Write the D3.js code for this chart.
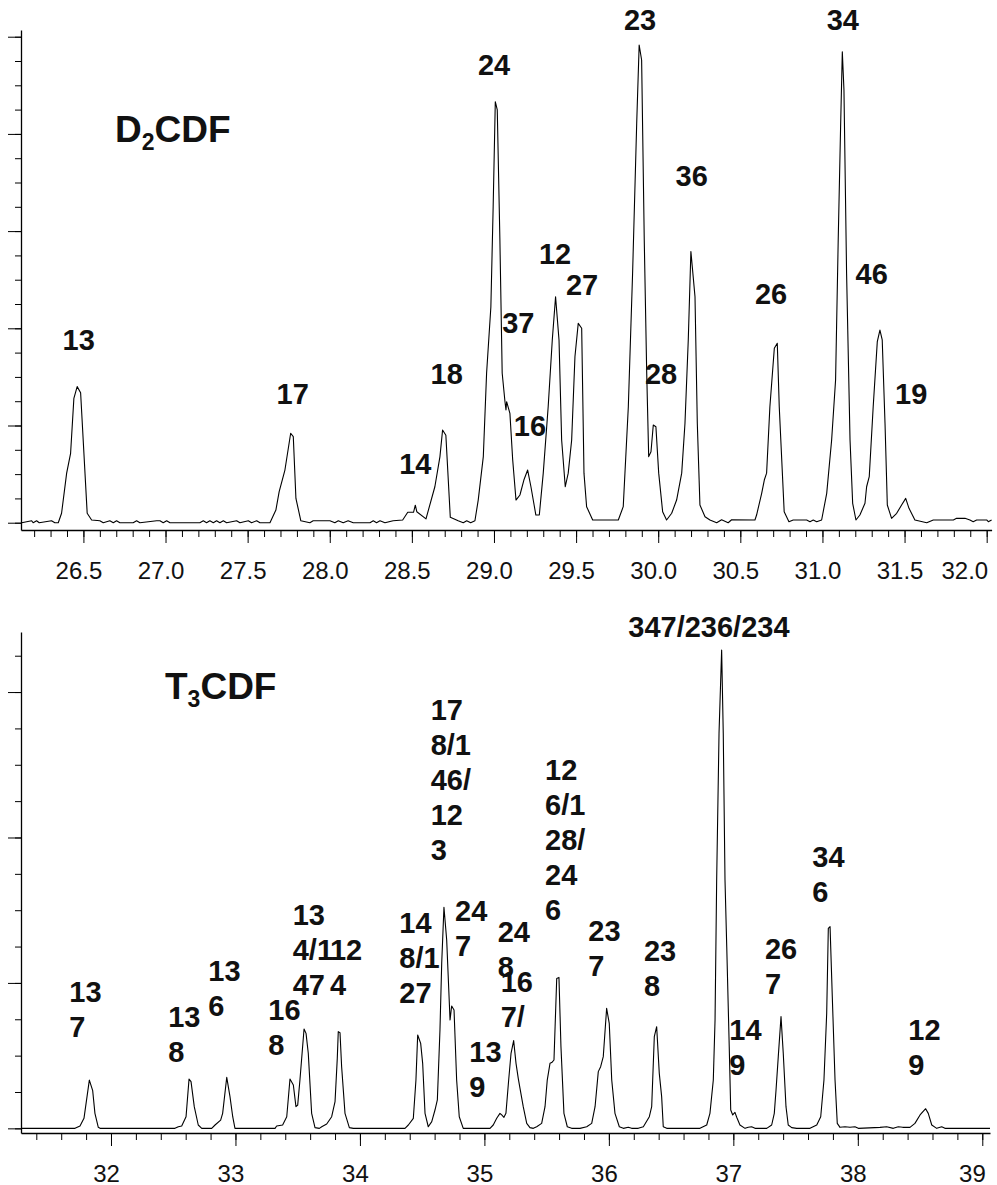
<!DOCTYPE html>
<html>
<head>
<meta charset="utf-8">
<script src="https://cdn.jsdelivr.net/npm/d3@7"></script>
<style>
  body { margin: 0; background: #fff; }
  svg { display: block; font-family: "Liberation Sans", Arial, sans-serif; }
</style>
</head>
<body>
<div id="drawing"></div>
<script>
// D2CDF trace: retention time (min) and signal (major y tick = 1)
var d2Time = [26.124, 26.185, 26.194, 26.215, 26.231, 26.306, 26.326, 26.347, 26.367, 26.398, 26.422, 26.442, 26.462, 26.483,
  26.523, 26.550, 26.600, 26.621, 26.661, 26.682, 26.702, 26.722, 26.803, 26.824, 26.844, 26.946, 26.966, 26.986, 27.007,
  27.027, 27.209, 27.230, 27.250, 27.270, 27.291, 27.311, 27.331, 27.352, 27.372, 27.433, 27.453, 27.504, 27.524, 27.555,
  27.575, 27.636, 27.672, 27.692, 27.727, 27.762, 27.778, 27.794, 27.824, 27.879, 27.899, 28.001, 28.031, 28.052, 28.082,
  28.112, 28.143, 28.245, 28.265, 28.285, 28.306, 28.336, 28.386, 28.444, 28.475, 28.510, 28.521, 28.530, 28.586, 28.640,
  28.671, 28.687, 28.707, 28.734, 28.782, 28.813, 28.834, 28.858, 28.884, 28.904, 28.935, 28.955, 28.981, 28.995, 29.008,
  29.020, 29.036, 29.050, 29.067, 29.073, 29.077, 29.097, 29.114, 29.134, 29.158, 29.182, 29.205, 29.225, 29.255, 29.276,
  29.300, 29.330, 29.355, 29.375, 29.396, 29.412, 29.434, 29.452, 29.473, 29.493, 29.513, 29.534, 29.548, 29.564, 29.601,
  29.757, 29.787, 29.818, 29.844, 29.869, 29.884, 29.899, 29.915, 29.930, 29.942, 29.956, 29.970, 29.986, 30.003, 30.027,
  30.051, 30.082, 30.112, 30.143, 30.163, 30.183, 30.199, 30.224, 30.238, 30.254, 30.285, 30.315, 30.356, 30.386, 30.426,
  30.447, 30.589, 30.599, 30.630, 30.646, 30.660, 30.680, 30.707, 30.725, 30.737, 30.767, 30.796, 30.822, 30.904, 30.924,
  30.944, 30.965, 30.995, 31.026, 31.056, 31.080, 31.096, 31.111, 31.121, 31.131, 31.147, 31.168, 31.184, 31.204, 31.228,
  31.259, 31.269, 31.285, 31.309, 31.334, 31.350, 31.364, 31.381, 31.395, 31.421, 31.452, 31.482, 31.507, 31.527, 31.563,
  31.635, 31.675, 31.797, 31.817, 31.868, 31.898, 31.918, 31.939, 32.000, 32.010, 32.030];
var d2Signal = [0, 0.02, 0, 0.02, 0, 0.02, 0, 0, 0.097, 0.51, 0.714, 1.28, 1.40, 1.337,
  0.097, 0.028, 0.02, 0, 0.02, 0, 0.02, 0, 0, 0.02, 0, 0.02, 0.02, 0, 0.02,
  0, 0, 0.02, 0, 0.02, 0, 0.02, 0, 0.02, 0, 0.02, 0, 0.02, 0, 0.02,
  0, 0, 0.13, 0.32, 0.542, 0.92, 0.885, 0.25, 0.02, 0, 0.02, 0.02, 0, 0.02, 0,
  0.02, 0, 0, 0.02, 0, 0.02, 0, 0.02, 0.028, 0.107, 0.107, 0.18, 0.113, 0.04, 0.37,
  0.68, 0.954, 0.90, 0.055, 0.02, 0, 0.02, 0, 0.02, 0.233, 0.68, 1.537, 2.22, 3.25, 4.331,
  4.246, 2.908, 1.537, 1.245, 1.16, 1.245, 1.125, 0.645, 0.233, 0.285, 0.439, 0.542, 0.37, 0.079, 0.079,
  0.51, 1.193, 1.88, 2.325, 1.88, 0.851, 0.37, 0.51, 0.851, 1.708, 2.051, 2.0, 0.51, 0.165, 0.028,
  0.028, 0.165, 1.193, 2.566, 4.109, 4.915, 4.76, 2.908, 1.537, 0.68, 0.73, 1.005, 0.988, 0.51, 0.113,
  0.028, 0.097, 0.233, 0.51, 1.023, 1.88, 2.79, 2.325, 1.023, 0.182, 0.062, 0.028, 0, 0.03, 0,
  0.03, 0.028, 0.079, 0.302, 0.439, 0.51, 1.193, 1.794, 1.846, 1.193, 0.113, 0.01, 0.028, 0.028, 0.01,
  0.028, 0.01, 0.028, 0.302, 0.851, 1.468, 2.908, 4.109, 4.846, 4.452, 2.566, 0.851, 0.2, 0.028, 0.079,
  0.2, 0.37, 0.473, 1.193, 1.863, 1.982, 1.88, 1.023, 0.182, 0.045, 0.097, 0.182, 0.25, 0.148, 0.028,
  0, 0.028, 0.028, 0.045, 0.045, 0.028, 0.01, 0.028, 0.028, 0.01, 0.028];

// T3CDF trace
var t3Time = [31.283, 31.711, 31.751, 31.783, 31.826, 31.853, 31.871, 31.898, 31.912, 32.514, 32.541, 32.568, 32.603,
  32.627, 32.643, 32.669, 32.701, 32.729, 32.809, 32.836, 32.881, 32.897, 32.930, 32.956, 32.978, 32.996, 33.318, 33.331,
  33.379, 33.412, 33.438, 33.465, 33.486, 33.500, 33.518, 33.551, 33.567, 33.585, 33.612, 33.639, 33.674, 33.693, 33.733,
  33.773, 33.800, 33.818, 33.826, 33.840, 33.853, 33.880, 33.915, 33.947, 34.362, 34.389, 34.429, 34.450, 34.464, 34.488,
  34.504, 34.523, 34.549, 34.577, 34.603, 34.622, 34.643, 34.657, 34.675, 34.697, 34.724, 34.737, 34.756, 34.777, 34.798,
  34.830, 35.045, 35.071, 35.099, 35.125, 35.139, 35.157, 35.173, 35.195, 35.214, 35.235, 35.254, 35.272, 35.286, 35.312,
  35.340, 35.366, 35.393, 35.420, 35.460, 35.487, 35.505, 35.527, 35.541, 35.559, 35.581, 35.599, 35.615, 35.639, 35.666,
  35.701, 35.768, 35.822, 35.862, 35.889, 35.915, 35.934, 35.955, 35.982, 36.003, 36.023, 36.049, 36.084, 36.116, 36.156,
  36.183, 36.236, 36.277, 36.325, 36.344, 36.365, 36.384, 36.405, 36.424, 36.437, 36.465, 36.732, 36.786, 36.812, 36.839,
  36.853, 36.866, 36.885, 36.906, 36.919, 36.933, 36.947, 36.967, 36.979, 36.995, 37.013, 37.027, 37.053, 37.094, 37.120,
  37.147, 37.174, 37.268, 37.308, 37.329, 37.343, 37.361, 37.383, 37.401, 37.423, 37.441, 37.469, 37.509, 37.616, 37.670,
  37.702, 37.728, 37.750, 37.763, 37.777, 37.795, 37.817, 37.835, 37.857, 37.897, 37.937, 37.977, 38.004, 38.178, 38.232,
  38.285, 38.325, 38.361, 38.419, 38.459, 38.500, 38.545, 38.566, 38.594, 38.634, 38.674, 38.700, 39.062];
var t3Signal = [0, 0, 0.016, 0.069, 0.332, 0.259, 0.103, 0.007, 0, 0, 0.011, 0.016, 0.08,
  0.339, 0.321, 0.149, 0.023, 0, 0, 0.023, 0.057, 0.103, 0.351, 0.218, 0.08, 0, 0, 0.016,
  0.023, 0.08, 0.339, 0.298, 0.149, 0.16, 0.332, 0.683, 0.653, 0.516, 0.103, 0.005, 0, 0.011, 0.03,
  0.08, 0.183, 0.481, 0.665, 0.658, 0.424, 0.103, 0.005, 0, 0, 0.023, 0.069, 0.332, 0.642, 0.584,
  0.447, 0.103, 0.011, 0.046, 0.126, 0.195, 0.676, 1.135, 1.52, 1.295, 0.745, 0.841, 0.814, 0.332, 0.08,
  0, 0, 0.023, 0.069, 0.103, 0.092, 0.076, 0.103, 0.332, 0.516, 0.603, 0.447, 0.344, 0.275, 0.149,
  0.034, 0.005, 0, 0.011, 0.034, 0.149, 0.332, 0.447, 0.452, 0.47, 1.031, 1.038, 0.562, 0.103, 0.011,
  0, 0, 0.011, 0.034, 0.149, 0.39, 0.424, 0.493, 0.825, 0.722, 0.332, 0.103, 0.011, 0, 0.007,
  0, 0, 0.011, 0.08, 0.149, 0.63, 0.699, 0.378, 0.218, 0.011, 0, 0, 0.023, 0.103, 0.332,
  0.745, 1.708, 2.716, 3.289, 2.716, 1.708, 1.249, 0.561, 0.126, 0.092, 0.11, 0.076, 0.023, 0, 0.007,
  0.011, 0, 0, 0.023, 0.103, 0.264, 0.493, 0.768, 0.516, 0.149, 0.023, 0.005, 0, 0, 0.023,
  0.08, 0.332, 0.791, 1.375, 1.387, 0.905, 0.332, 0.034, 0.007, 0.011, 0.007, 0.011, 0, 0.007, 0.011,
  0, 0.011, 0.007, 0.007, 0.034, 0.092, 0.135, 0.103, 0.023, 0, 0.011, 0, 0];

// peak annotations: congener lines, retention time and signal level of first baseline
var d2Labels = [
  { lines: ["13"], rt: 26.373, at: 1.777 },
  { lines: ["17"], rt: 27.676, at: 1.218 },
  { lines: ["14"], rt: 28.423, at: 0.498 },
  { lines: ["18"], rt: 28.614, at: 1.427 },
  { lines: ["24"], rt: 28.902, at: 4.606 },
  { lines: ["37"], rt: 29.050, at: 1.955 },
  { lines: ["16"], rt: 29.121, at: 0.892 },
  { lines: ["12"], rt: 29.274, at: 2.662 },
  { lines: ["27"], rt: 29.438, at: 2.343 },
  { lines: ["23"], rt: 29.791, at: 5.069 },
  { lines: ["28"], rt: 29.919, at: 1.427 },
  { lines: ["36"], rt: 30.106, at: 3.464 },
  { lines: ["26"], rt: 30.589, at: 2.247 },
  { lines: ["34"], rt: 31.026, at: 5.069 },
  { lines: ["46"], rt: 31.202, at: 2.453 },
  { lines: ["19"], rt: 31.442, at: 1.221 }
];
var t3Labels = [
  { lines: ["13", "7"], rt: 31.665, at: 0.870 },
  { lines: ["13", "8"], rt: 32.460, at: 0.699 },
  { lines: ["13", "6"], rt: 32.782, at: 1.015 },
  { lines: ["16", "8"], rt: 33.264, at: 0.745 },
  { lines: ["13", "4/1", "47"], rt: 33.460, at: 1.398 },
  { lines: ["12", "4"], rt: 33.759, at: 1.157 },
  { lines: ["14", "8/1", "27"], rt: 34.316, at: 1.341 },
  { lines: ["17", "8/1", "46/", "12", "3"], rt: 34.568, at: 2.808 },
  { lines: ["24", "7"], rt: 34.764, at: 1.428 },
  { lines: ["13", "9"], rt: 34.879, at: 0.458 },
  { lines: ["24", "8"], rt: 35.107, at: 1.283 },
  { lines: ["16", "7/"], rt: 35.131, at: 0.935 },
  { lines: ["12", "6/1", "28/", "24", "6"], rt: 35.487, at: 2.395 },
  { lines: ["23", "7"], rt: 35.835, at: 1.288 },
  { lines: ["347/236/234"], rt: 36.156, at: 3.380 },
  { lines: ["23", "8"], rt: 36.282, at: 1.150 },
  { lines: ["14", "9"], rt: 36.968, at: 0.607 },
  { lines: ["26", "7"], rt: 37.254, at: 1.162 },
  { lines: ["34", "6"], rt: 37.634, at: 1.799 },
  { lines: ["12", "9"], rt: 38.406, at: 0.607 }
];

var d2XTicks = [26.5, 27.0, 27.5, 28.0, 28.5, 29.0, 29.5, 30.0, 30.5, 31.0, 31.5, 32.0];
var t3XTicks = [32, 33, 34, 35, 36, 37, 38, 39];

var chart;
(function (chart) {
    var svg;
    var W = 997, H = 1185;

    function drawPanel(p) {
        var x = d3.scaleLinear().domain(p.xDomain).range([p.left, p.right]);
        var y = d3.scaleLinear().domain(p.yDomain).range([p.bottom, p.top]);
        var g = svg.append("g");

        // minor x ticks
        g.append("g")
            .attr("transform", "translate(0," + p.bottom + ")")
            .call(d3.axisBottom(x).tickValues(p.xMinor).tickSize(7).tickFormat(""))
            .call(function (s) { s.select(".domain").remove(); });
        var xa = g.append("g")
            .attr("transform", "translate(0," + p.bottom + ")")
            .call(d3.axisBottom(x).tickValues(p.xMajor).tickSize(13).tickSizeOuter(0).tickFormat(d3.format(p.fmt)));
        xa.select(".domain").attr("stroke-width", 1.3);
        var last = p.xMajor.length - 1;
        xa.selectAll("text")
            .attr("y", 49).attr("dy", 0)
            .attr("dx", function (d, i) { return i === last ? p.lastDx : -5; })
            .attr("text-anchor", function (d, i) { return i === last ? "end" : "middle"; })
            .attr("font-size", 24)
            .attr("font-family", "'Liberation Sans', Arial, sans-serif")
            .attr("fill", "#111");

        g.append("g")
            .attr("transform", "translate(" + p.left + ",0)")
            .call(d3.axisLeft(y).tickValues(p.yMinor).tickSize(6).tickFormat(""))
            .call(function (s) { s.select(".domain").remove(); });
        var ya = g.append("g")
            .attr("transform", "translate(" + p.left + ",0)")
            .call(d3.axisLeft(y).tickValues(p.yMajor).tickSize(13).tickSizeOuter(0).tickFormat(""));
        ya.select(".domain").attr("stroke-width", 1.3);

        var line = d3.line()
            .x(function (i) { return x(p.time[i]); })
            .y(function (i) { return y(p.signal[i]); });
        g.append("path")
            .attr("d", line(d3.range(p.time.length)))
            .attr("fill", "none")
            .attr("stroke", "#000")
            .attr("stroke-width", 1.1)
            .attr("stroke-linejoin", "round");

        var lab = g.selectAll(".peak")
            .data(p.labels)
            .enter()
            .append("text")
            .attr("class", "peak")
            .attr("font-size", 29)
            .attr("font-weight", "bold")
            .attr("fill", "#111")
            .attr("x", function (d) { return x(d.rt); })
            .attr("y", function (d) { return y(d.at); });
        lab.selectAll("tspan")
            .data(function (d) { return d.lines.map(function (t) { return { t: t, rt: d.rt }; }); })
            .enter()
            .append("tspan")
            .attr("x", function (d) { return x(d.rt); })
            .attr("dy", function (d, i) { return i ? 35 : 0; })
            .text(function (d) { return d.t; });

        var title = g.append("text")
            .attr("x", p.titleX)
            .attr("y", p.titleY)
            .attr("font-size", 37)
            .attr("font-weight", "bold")
            .attr("fill", "#111");
        title.append("tspan").text(p.title[0]);
        title.append("tspan").attr("font-size", 23).attr("dy", 8).text(p.title[1]);
        title.append("tspan").attr("dy", -8).text(p.title[2]);
    }

    function main() {
        svg = d3.select("#drawing").append("svg")
            .attr("width", W)
            .attr("height", H);
        svg.append("rect").attr("width", W).attr("height", H).attr("fill", "#fff");

        drawPanel({
            time: d2Time, signal: d2Signal, labels: d2Labels,
            xDomain: [26.12, 32.03], yDomain: [-0.075, 5.069],
            left: 21, right: 991.6, top: 30, bottom: 530,
            xMajor: d2XTicks, xMinor: d3.range(26.2, 32.05, 0.1), fmt: ".1f", lastDx: 1,
            yMajor: [0, 1, 2, 3, 4, 5], yMinor: d3.range(0, 5.01, 0.25),
            title: ["D", "2", "CDF"], titleX: 115, titleY: 141.7
        });
        drawPanel({
            time: t3Time, signal: t3Signal, labels: t3Labels,
            xDomain: [31.277, 39.062], yDomain: [-0.032, 3.413],
            left: 21, right: 990, top: 632, bottom: 1133,
            xMajor: t3XTicks, xMinor: d3.range(31.4, 39.05, 0.2), fmt: "d", lastDx: 3,
            yMajor: [0, 1, 2, 3], yMinor: d3.range(0, 3.3, 0.25),
            title: ["T", "3", "CDF"], titleX: 165, titleY: 699.3
        });
    }
    chart.main = main;
})(chart || (chart = {}));
chart.main();
</script>
</body>
</html>
